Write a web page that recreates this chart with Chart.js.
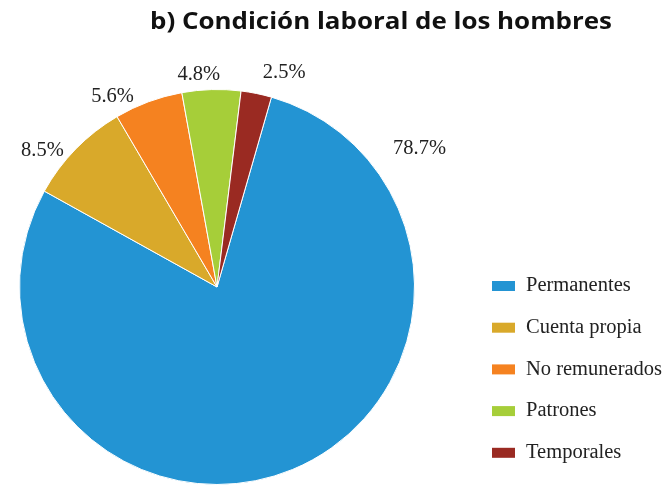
<!DOCTYPE html>
<html>
<head>
<meta charset="utf-8">
<script src="https://cdn.jsdelivr.net/npm/chart.js@4.4.1/dist/chart.umd.min.js"></script>
<style>
  html, body { margin: 0; padding: 0; background: #fff; }
  #wrap { width: 669px; height: 487px; }
</style>
</head>
<body>
<div id="wrap"><canvas id="pie"></canvas></div>
<script>
// datos
const categories = ['Permanentes', 'Cuenta propia', 'No remunerados', 'Patrones', 'Temporales'];
const values = [78.7, 8.5, 5.6, 4.8, 2.5];
const colors = ['#2394d3', '#d9a92a', '#f58220', '#a6ce39', '#9a2a22'];
const titleText = 'b) Condición laboral de los hombres';

// angulo (grados, desde arriba) donde va cada etiqueta
const labelAngle = [55.6, -52, -28.7, -4.9, 17.4];
const labelDist = [48, 24, 20, 16, 27];

const serif = '"Liberation Serif", "Times New Roman", serif';

const titlePlugin = {
	id: 'titulo',
	afterDraw(chart) {
		const ctx = chart.ctx;
		ctx.save();
		ctx.fillStyle = '#111';
		ctx.font = 'bold 24px "Open Sans", sans-serif';
		ctx.textAlign = 'left';
		ctx.textBaseline = 'alphabetic';
		// ajustar al ancho del original
		const w = ctx.measureText(titleText).width;
		ctx.translate(150, 29);
		ctx.scale(462 / w, 1);
		ctx.fillText(titleText, 0, 0);
		ctx.restore();
	}
};

const labelsPlugin = {
	id: 'etiquetas',
	afterDatasetsDraw(chart) {
		const ctx = chart.ctx;
		const meta = chart.getDatasetMeta(0);
		ctx.save();
		ctx.fillStyle = '#222';
		ctx.font = '20.5px ' + serif;
		ctx.textAlign = 'center';
		ctx.textBaseline = 'middle';
		meta.data.forEach(function (arc, i) {
			const a = labelAngle[i] * Math.PI / 180;
			const d = arc.outerRadius + labelDist[i];
			const x = arc.x + Math.sin(a) * d;
			const y = arc.y - Math.cos(a) * d;
			ctx.fillText(values[i].toFixed(1) + '%', x, y);
		});
		ctx.restore();
	}
};

const legendPlugin = {
	id: 'leyenda',
	afterDraw(chart) {
		const ctx = chart.ctx;
		ctx.save();
		ctx.font = '20.5px ' + serif;
		ctx.textBaseline = 'middle';
		ctx.textAlign = 'left';
		categories.forEach(function (c, i) {
			const y = 286 + i * 41.7;
			ctx.fillStyle = colors[i];
			ctx.fillRect(492, y - 5, 23, 10);
			ctx.fillStyle = '#222';
			ctx.fillText(c, 526, y);
		});
		ctx.restore();
	}
};

new Chart(document.getElementById('pie'), {
	type: 'pie',
	data: {
		labels: categories,
		datasets: [{
			data: values,
			backgroundColor: colors,
			borderColor: '#fff',
			borderWidth: 1
		}]
	},
	options: {
		responsive: true,
		maintainAspectRatio: false,
		animation: false,
		rotation: 16,
		layout: { padding: { left: 19, right: 254, top: 89, bottom: 2 } },
		plugins: {
			legend: { display: false },
			tooltip: { enabled: false }
		}
	},
	plugins: [titlePlugin, labelsPlugin, legendPlugin]
});
</script>
</body>
</html>
